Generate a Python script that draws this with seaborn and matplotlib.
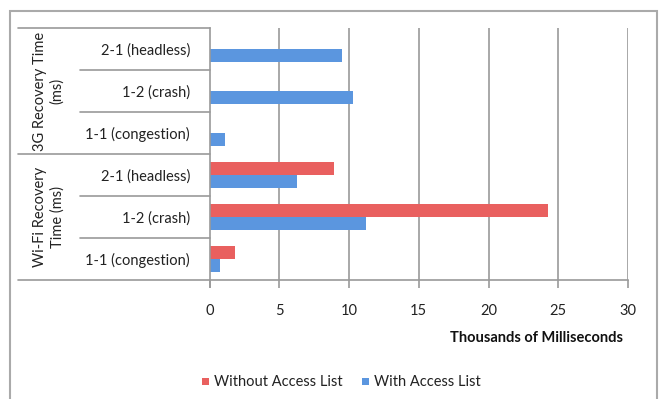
import matplotlib
matplotlib.use("Agg")
import matplotlib.pyplot as plt
from matplotlib.lines import Line2D
from matplotlib.patches import Rectangle
from matplotlib.transforms import blended_transform_factory
import numpy as np
import pandas as pd
import seaborn as sns

# Recovery times in thousands of milliseconds
groups = ["3G Recovery Time\n(ms)", "Wi-Fi Recovery\nTime (ms)"]
scenarios = ["2-1 (headless)", "1-2 (crash)", "1-1 (congestion)"]
series = ["Without Access List", "With Access List"]
g3_without = [np.nan, np.nan, np.nan]
g3_with = [9.5, 10.3, 1.1]
wifi_without = [8.9, 24.3, 1.8]
wifi_with = [6.25, 11.2, 0.75]
x_ticks = [0, 5, 10, 15, 20, 25, 30]
x_title = "Thousands of Milliseconds"

colors = {"Without Access List": "#E9605F", "With Access List": "#5B96DF"}

rows = []
for gi, (wo, wi) in enumerate([(g3_without, g3_with), (wifi_without, wifi_with)]):
    for si, sc in enumerate(scenarios):
        key = f"{gi}|{sc}"
        rows.append({"row": key, "label": sc, "series": series[0], "value": wo[si]})
        rows.append({"row": key, "label": sc, "series": series[1], "value": wi[si]})
df = pd.DataFrame(rows)
row_order = list(dict.fromkeys(df["row"]))

sns.set_theme(style="white")
plt.rcParams["font.family"] = ["Lato", "DejaVu Sans"]

W, H = 662, 399
fig = plt.figure(figsize=(W / 100, H / 100), dpi=100)
x0, x1, y0, y1 = 209.5, 628, 28, 280
ax = fig.add_axes([x0 / W, 1 - y1 / H, (x1 - x0) / W, (y1 - y0) / H])

line_c = "#9A9A9A"
for t in x_ticks[1:]:
    ax.axvline(t, color=line_c, lw=1.2, zorder=0)

sns.barplot(data=df, y="row", x="value", hue="series", order=row_order,
            hue_order=series, palette=colors, orient="h", width=0.62,
            gap=0, dodge=True, errorbar=None, ax=ax, zorder=2, legend=False,
            linewidth=0, edgecolor="none", saturation=1)

ax.set_xlim(0, 30)
ax.set_ylim(5.5, -0.5)
ax.set_xticks(x_ticks)
ax.set_xticklabels([str(t) for t in x_ticks], fontsize=10.5, color="#222222")
ax.set_yticks(range(len(row_order)))
ax.set_yticklabels([r.split("|")[1] for r in row_order], fontsize=10.5, color="#222222")
ax.tick_params(axis="y", length=0, pad=14)
ax.tick_params(axis="x", direction="out", length=6, width=1.2, color=line_c, pad=11, bottom=True)
ax.set_ylabel("")
ax.set_xlabel("")
for s in ["top", "right"]:
    ax.spines[s].set_visible(False)
for s in ["left", "bottom"]:
    ax.spines[s].set_color(line_c)
    ax.spines[s].set_linewidth(1.2)
ax.spines["left"].set_bounds(5.5 + 0.17, -0.5)

# category table lines on the left
tr = blended_transform_factory(fig.transFigure, ax.transData)
def hline(xa, xb, yv):
    fig.add_artist(Line2D([xa / W, xb / W], [yv, yv], transform=tr, color=line_c, lw=1.2))
hline(18, x0, -0.5)
hline(18, x0, 2.5)
hline(18, x0, 5.5)
for yv in [0.5, 1.5, 3.5, 4.5]:
    hline(80, x0, yv)

for gi, g in enumerate(groups):
    fig.text(49 / W, 1.0 + gi * 3, g, transform=tr, rotation=90, ha="center", va="center",
             fontsize=10.5, color="#222222", multialignment="center", linespacing=1.25)

fig.text(623 / W, 1 - 338 / H, x_title, ha="right", va="center",
         fontsize=10.5, fontweight="bold", color="#111111")

# legend
for lx, name in [(205, series[0]), (365, series[1])]:
    fig.add_artist(Rectangle(((lx - 3.5) / W, 1 - 385 / H), 7 / W, 7 / H,
                             facecolor=colors[name], lw=0, transform=fig.transFigure))
    fig.text((lx + 9) / W, 1 - 382 / H, name, ha="left", va="center",
             fontsize=10.5, color="#222222")

# outer frame
fig.add_artist(Rectangle((10 / W, -0.1), 647 / W, 1 - 11 / H + 0.1, fill=False,
                         edgecolor="#AAAAAA", lw=1.5, transform=fig.transFigure))

fig.savefig("out.png", dpi=100)
